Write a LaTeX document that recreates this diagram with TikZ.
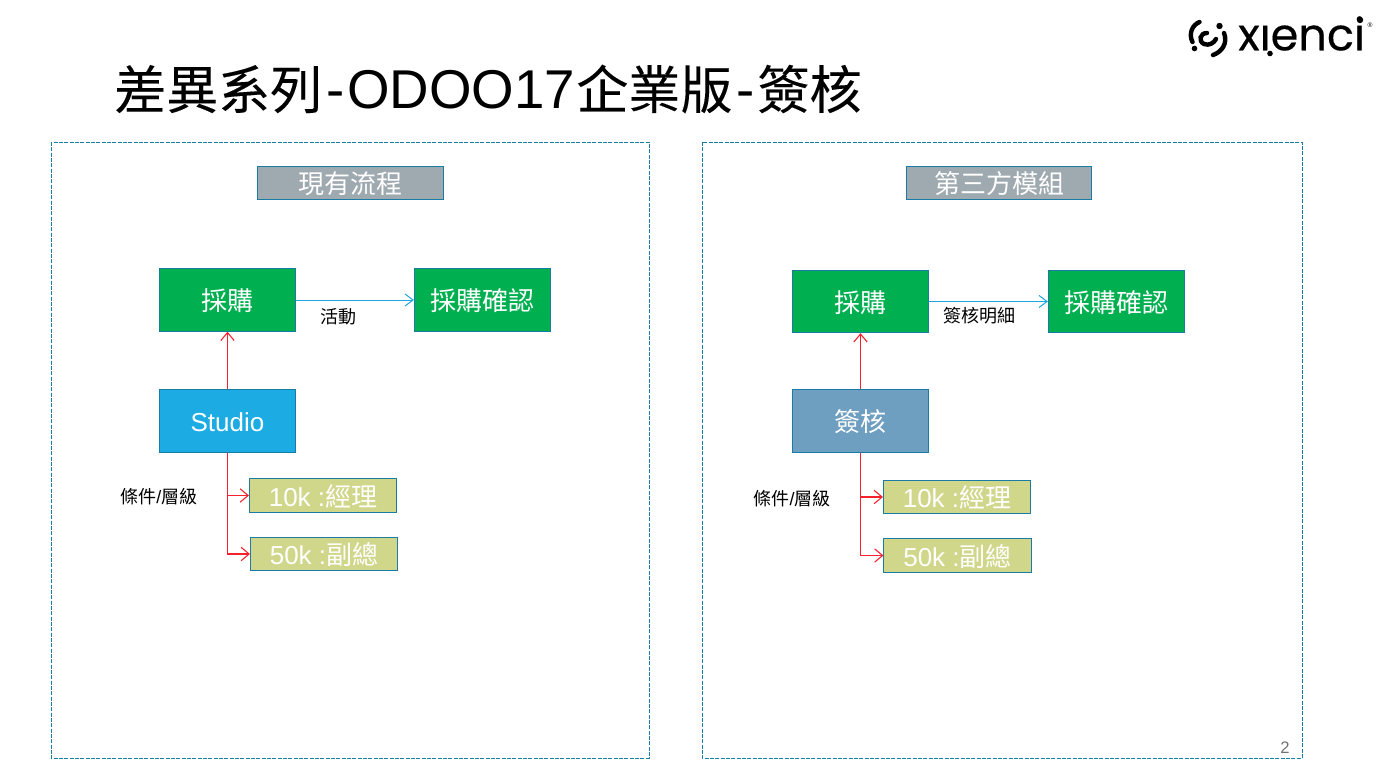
\documentclass[tikz,border=0pt]{standalone}
\usepackage{fontspec}
\setmainfont{Noto Sans CJK TC}
\newfontfamily\titlecjk[FakeBold=0.2]{Noto Sans CJK TC}
\newfontfamily\lat{Liberation Sans}
\newfontfamily\logofont[FakeBold=0.35]{Poppins}
\usetikzlibrary{arrows.meta}
\definecolor{edge}{HTML}{1A7CA5}
\definecolor{greenb}{HTML}{00B050}
\definecolor{blueb}{HTML}{1CABE2}
\definecolor{steelb}{HTML}{6E9EC0}
\definecolor{greyb}{HTML}{9FA9B0}
\definecolor{oliveb}{HTML}{D0D68A}
\definecolor{arrowblue}{HTML}{1CA7E0}
\definecolor{arrowred}{HTML}{F5222D}
\newcommand{\tlat}[1]{{\lat\fontsize{41}{46}\selectfont #1}}
\tikzset{
 frame/.style={draw=edge,dash pattern=on 3pt off 1pt,line width=0.75pt},
 box/.style={draw=edge,line width=0.75pt,inner sep=0pt,text=white,font=\fontsize{19.5}{22}\selectfont,anchor=center,text height=19.5pt,text depth=3.5pt},
 flowbox/.style={box,minimum width=102.2pt,minimum height=46.8pt},
 greenbox/.style={flowbox,fill=greenb},
 headbox/.style={box,fill=greyb,minimum width=139pt,minimum height=25pt},
 condbox/.style={box,fill=oliveb,minimum width=110.3pt,minimum height=25pt},
 lbl/.style={font=\fontsize{13.5}{16}\selectfont,text=black,inner sep=0pt},
 redarrow/.style={draw=arrowred,line width=0.8pt,-{Straight Barb[length=6pt,width=10pt]}},
 bluearrow/.style={draw=arrowblue,line width=0.75pt,-{Straight Barb[length=6pt,width=9pt]}},
 logoarc/.style={line width=3.3pt,line cap=round,black}
}
\begin{document}
\begin{tikzpicture}[x=0.75pt,y=-0.75pt]
\useasboundingbox (0,0) rectangle (1390,779);
\fill[white] (0,0) rectangle (1390,779);
% title
\node[anchor=west,inner sep=0pt,font=\titlecjk\fontsize{39}{46}\selectfont] (title) at (114,89) {差異系列\kern3pt\tlat{-}\kern2.25pt\tlat{ODOO17}\kern0.75pt 企業版\kern3pt\tlat{-}\kern2.25pt 簽核};
% logo
\draw[logoarc] (1199.5,22) .. controls (1192,25) and (1188.5,34) .. (1192.5,42);
\fill (1194.5,48.5) circle (2.8);
\draw[logoarc] (1207,33) .. controls (1200,33) and (1198,41) .. (1204,44) .. controls (1209,46) and (1214,43) .. (1216,39);
\fill (1219.5,26) circle (3.2);
\draw[logoarc] (1224,33) .. controls (1228,43) and (1222,52) .. (1213,55);
\node[anchor=west,inner sep=0pt,font=\logofont\fontsize{33.5}{36}\selectfont] (logo) at (1238,33.5) {xıenci};
\fill (1270,53.5) circle (2.8);
\fill (1360,20) circle (3.2);
\node[inner sep=0pt,font=\lat\fontsize{5}{6}\selectfont] (reg) at (1370,25) {®};
% frames
\draw[frame] (51,142) rectangle (649,758);
\draw[frame] (702,142) rectangle (1302,758);
\node[font=\lat\fontsize{12.5}{14}\selectfont,text=black!55,inner sep=0pt] (page) at (1285,748) {2};
% left
\node[headbox] (lh) at (350.5,183) {現有流程};
\node[greenbox] (lp) at (227.5,300) {採購};
\node[greenbox] (lc) at (482.5,300) {採購確認};
\node[flowbox,fill=blueb,font=\lat\fontsize{19.5}{22}\selectfont] (ls) at (227.5,421) {Studio};
\node[condbox] (la) at (323,495.5) {{\lat 10k :}經理};
\node[condbox] (lb) at (324,554) {{\lat 50k :}副總};
\node[lbl] (lt1) at (338,317) {活動};
\node[lbl] (lt2) at (159,497) {條件{\lat /}層級};
\draw[bluearrow] (lp.east) -- (lc.west);
\draw[redarrow] (ls.north) -- (lp.south);
\draw[redarrow] (ls.south) |- (la.west);
\draw[redarrow] (ls.south) |- (lb.west);
% right
\node[headbox] (rh) at (999,183) {第三方模組};
\node[greenbox] (rp) at (860.5,301.5) {採購};
\node[greenbox] (rc) at (1116.5,301.5) {採購確認};
\node[flowbox,fill=steelb] (rs) at (860.5,421) {簽核};
\node[condbox] (ra) at (957,497) {{\lat 10k :}經理};
\node[condbox] (rb) at (957.5,555.5) {{\lat 50k :}副總};
\node[lbl] (rt1) at (979,316) {簽核明細};
\node[lbl] (rt2) at (792,498.5) {條件{\lat /}層級};
\draw[bluearrow] (rp.east) -- (rc.west);
\draw[redarrow] (rs.north) -- (rp.south);
\draw[redarrow] (rs.south) |- (ra.west);
\draw[redarrow] (rs.south) |- (rb.west);
\end{tikzpicture}
\end{document}
